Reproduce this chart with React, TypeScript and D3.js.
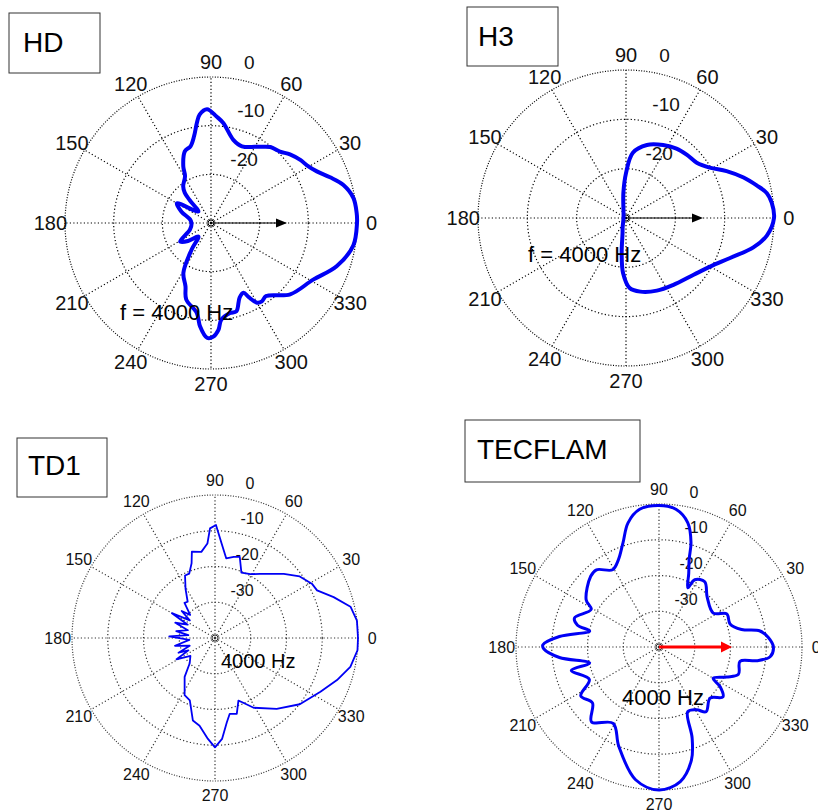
import React from "react";
import * as d3 from "d3";

// angle labels round every polar plot
const spokeAngles = d3.range(0, 360, 30);

// HD — angle (deg) / level (dB)
const hdAngles = [0, 4, 10, 16, 21, 26, 31, 35, 41, 46, 52, 57, 68, 75, 83, 87, 92, 96, 98, 101, 105, 110, 116, 119, 127, 131, 133, 138, 150, 159, 170, 180, 197, 211, 218, 227, 234, 241, 248, 252, 261, 264, 268, 271, 274, 276, 282, 286, 291, 295, 297, 300, 303, 307, 318, 331, 341, 351];
const hdDb = [0.3, 0.2, -0.3, -1.7, -3.8, -5.8, -7.0, -7.5, -8.5, -9.6, -10.2, -11.3, -13.0, -12.3, -9.3, -8.1, -6.6, -7.6, -9.2, -11.8, -13.7, -14.3, -17.0, -19.0, -20.5, -21.8, -23.6, -26.5, -21.9, -23.5, -25.6, -26, -25.5, -22.6, -24.0, -26.2, -23.2, -18.3, -16, -13.5, -11.3, -8.6, -6.4, -6.6, -8, -10, -11.1, -11.1, -13.6, -14.2, -12.9, -11.1, -10.8, -11.2, -8.1, -6, -2.7, -0.4];

// H3
const h3Angles = [0, 6, 10, 14, 19, 25, 31, 38, 46, 54, 63, 74, 84, 90, 96, 110, 180, 250, 257, 263, 267, 273, 281, 293, 305, 320, 330, 339, 347, 353];
const h3Db = [0, -0.3, -1.0, -2.7, -4.8, -7.5, -10.2, -11.8, -12.2, -12.6, -13.4, -14.6, -16.7, -20.9, -24.9, -28.5, -29.5, -28, -26.9, -22.8, -18.8, -15.8, -14.8, -14, -13.4, -12.1, -10.3, -7.4, -3.5, -1.2];

// TD1
const td1Angles = [0, 7, 13, 19, 25, 29, 36, 43, 55, 61, 68, 73, 77, 82, 86, 89.5, 92.6, 94.6, 99, 105, 107.4, 111.8, 115.6, 121, 127, 131, 137, 141, 145, 150, 154, 159, 164, 170, 174, 178, 184, 191, 197, 202, 205, 209, 216, 225, 232, 242, 248, 255, 260, 266, 270, 274, 278, 281, 286, 290.5, 292.6, 299, 311, 322, 333, 341, 348, 355];
const td1Db = [0.3, 0, -1.1, -4.9, -8.5, -8.9, -10.7, -13.7, -18.1, -19.6, -20.3, -16.3, -16.7, -17.5, -13.5, -8.4, -9.3, -13.5, -15.6, -15, -18.1, -20.6, -20.6, -24, -27.3, -27.0, -30.5, -28, -31.4, -26.1, -31.5, -28.1, -32.1, -29, -32.5, -27.2, -32.8, -28.6, -32.6, -29, -31.8, -27.7, -31.5, -30, -26.2, -21.9, -21.2, -16.1, -15.1, -11.7, -9.4, -11.7, -16.2, -18.4, -17.9, -21.3, -20.6, -17.7, -13.7, -9.9, -6.9, -3.9, -1.3, 0];

// TECFLAM
const tecAngles = [0, 5, 9, 12, 18, 26, 32, 46, 55, 62, 64, 68, 71, 73, 77, 83, 90, 98, 104, 109, 115, 121, 129, 134, 147, 151, 161, 165, 167, 174, 179, 181, 186, 193, 195, 205, 212, 220, 228, 239, 248, 260, 270, 279, 286, 290, 294, 301, 306, 315, 322, 327, 330, 336, 341, 350, 352, 355];
const tecDb = [-8.0, -9.3, -11.4, -16.4, -19.1, -18.9, -22.1, -20.6, -17.7, -18.7, -21.6, -17.8, -14.1, -9.4, -4.3, -1.2, -0.4, -1.1, -4.2, -9.1, -13.1, -14.8, -12.2, -12.5, -15.7, -18.3, -15, -16.4, -20.1, -12, -7.5, -7.8, -12, -20.1, -14.6, -18.5, -14.2, -15.7, -11.8, -15.1, -10, -2.3, 0, -1.9, -7.1, -12.9, -20.2, -19.5, -17.6, -19.8, -17.3, -19.6, -22.5, -19.3, -16.5, -17, -12.4, -8.8];

const panels = [
  {
    title: "HD", box: [9, 13, 91, 60], titleX: 23, titleY: 52,
    cx: 211, cy: 223, R: 146, dbMin: -30, angles: hdAngles, db: hdDb,
    lineW: 4, smooth: true, tickSize: 20, ringSize: 19, grid: "#000",
    note: "f = 4000 Hz", noteX: 120, noteY: 320, noteSize: 22,
    arrow: 76, arrowColor: "#000", arrowW: 1.2,
  },
  {
    title: "H3", box: [467, 7, 91, 59], titleX: 478, titleY: 46,
    cx: 626, cy: 218, R: 148, dbMin: -30, angles: h3Angles, db: h3Db,
    lineW: 4, smooth: true, tickSize: 20, ringSize: 19, grid: "#000",
    note: "f = 4000 Hz", noteX: 528, noteY: 262, noteSize: 22,
    arrow: 77, arrowColor: "#000", arrowW: 1.2,
  },
  {
    title: "TD1", box: [17, 438, 90, 59], titleX: 28, titleY: 475,
    cx: 215, cy: 638, R: 143, dbMin: -40, angles: td1Angles, db: td1Db,
    lineW: 1.8, smooth: false, tickSize: 16, ringSize: 16, grid: "#333",
    note: "4000 Hz", noteX: 221, noteY: 668, noteSize: 20,
    arrow: 0, arrowColor: "none", arrowW: 0,
  },
  {
    title: "TECFLAM", box: [465, 420, 175, 62], titleX: 477, titleY: 459,
    cx: 659, cy: 647, R: 143, dbMin: -40, angles: tecAngles, db: tecDb,
    lineW: 3, smooth: true, tickSize: 16, ringSize: 16, grid: "#333",
    note: "4000 Hz", noteX: 622, noteY: 705, noteSize: 22,
    arrow: 73, arrowColor: "#f00", arrowW: 3,
  },
];

const font = "'Liberation Sans', Arial, sans-serif";
const rad = (deg: number) => (deg * Math.PI) / 180;

function PolarPanel({ p }: { p: any }) {
  const r = d3.scaleLinear().domain([p.dbMin, 0]).range([0, p.R]).clamp(true);
  const rings = d3.range(p.dbMin + 10, 1, 10);
  const pts: [number, number][] = p.angles.map((a: number, i: number) => [a, p.db[i]]);
  const line = d3
    .lineRadial<[number, number]>()
    .angle((d) => rad(90 - d[0]))
    .radius((d) => r(d[1]))
    .curve(p.smooth ? d3.curveCatmullRomClosed.alpha(0.5) : d3.curveLinearClosed);

  const [bx, by, bw, bh] = p.box;
  const small = p.dbMin === -30;
  return (
    <g fontFamily={font}>
      <rect x={bx} y={by} width={bw} height={bh} fill="#fff" stroke="#333" strokeWidth={1} />
      <text x={p.titleX} y={p.titleY} fontSize={28} fill="#000">{p.title}</text>

      <g transform={`translate(${p.cx},${p.cy})`}>
        {spokeAngles.map((a) => (
          <line key={a} x1={0} y1={0} x2={p.R * Math.cos(rad(a))} y2={-p.R * Math.sin(rad(a))}
            stroke={p.grid} strokeWidth={1.2} strokeDasharray="1.2,2.3" />
        ))}
        {rings.map((v) => (
          <circle key={v} r={r(v)} fill="none" stroke={p.grid} strokeWidth={1.2}
            strokeDasharray={v === 0 ? "1,1.6" : "1.2,2.3"} />
        ))}
        <circle r={3} fill="none" stroke={p.grid} strokeWidth={1} />

        {spokeAngles.map((a) => (
          <text key={a} x={1.1 * p.R * Math.cos(rad(a))} y={-1.1 * p.R * Math.sin(rad(a))}
            fontSize={p.tickSize} textAnchor="middle" dominantBaseline="central" fill="#111">
            {a}
          </text>
        ))}
        {rings.map((v) => (
          <text key={v} x={0.14 * r(v) + (small ? 12.5 : 10.5)} y={-r(v) - (small ? 15 : 12)}
            fontSize={p.ringSize} dominantBaseline="central" fill="#111">
            {v}
          </text>
        ))}

        {p.arrow > 0 && (
          <g>
            <line x1={0} y1={0} x2={p.arrow - 8} y2={0} stroke={p.arrowColor} strokeWidth={p.arrowW} />
            <path d={`M${p.arrow - 11},${-4 - p.arrowW / 2}L${p.arrow},0L${p.arrow - 11},${4 + p.arrowW / 2}Z`} fill={p.arrowColor} />
          </g>
        )}

        <path d={line(pts) || ""} fill="none" stroke="#0000f5" strokeWidth={p.lineW} strokeLinejoin="round" />
      </g>

      <text x={p.noteX} y={p.noteY} fontSize={p.noteSize} fill="#000">{p.note}</text>
    </g>
  );
}

export default function App() {
  return (
    <svg width={818} height={811} style={{ position: "absolute", left: 0, top: 0, background: "#fff" }}>
      <rect width={818} height={811} fill="#fff" />
      {panels.map((p) => (
        <PolarPanel key={p.title} p={p} />
      ))}
    </svg>
  );
}
